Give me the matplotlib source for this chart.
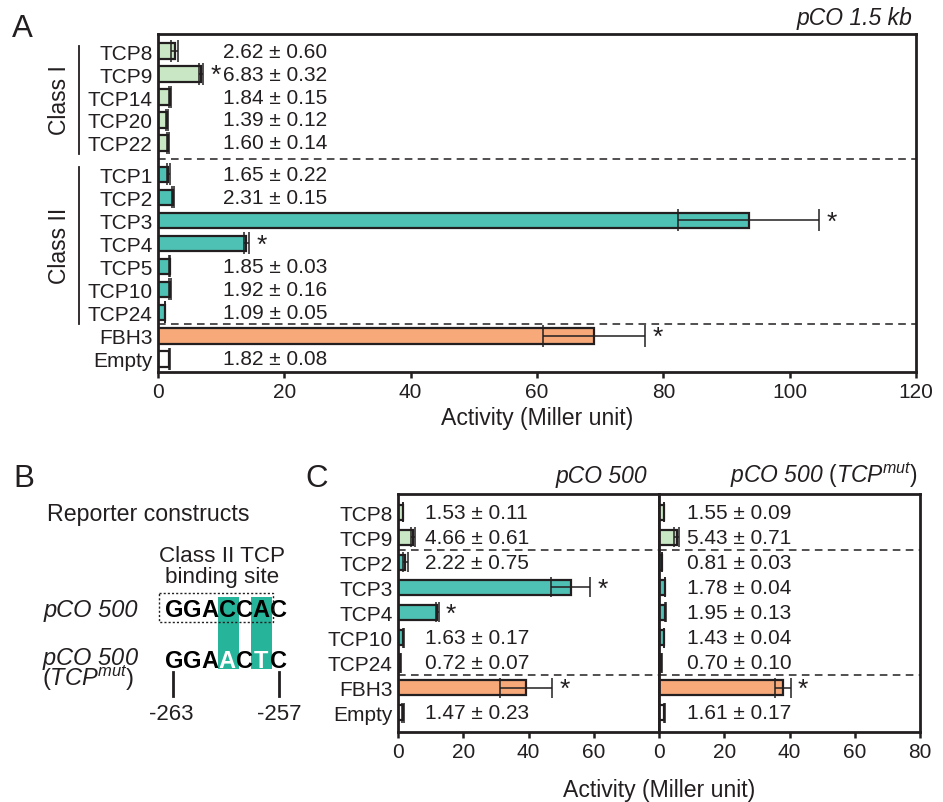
import matplotlib
matplotlib.use('Agg')
import matplotlib.pyplot as plt
from matplotlib.patches import Rectangle
import numpy as np

plt.rcParams['font.family'] = ['Liberation Sans', 'DejaVu Sans']
plt.rcParams['mathtext.fontset'] = 'custom'
plt.rcParams['mathtext.rm'] = 'Liberation Sans'
plt.rcParams['mathtext.it'] = 'Liberation Sans:italic'
plt.rcParams['mathtext.sf'] = 'Liberation Sans:italic'
plt.rcParams['mathtext.bf'] = 'Liberation Sans:bold'

# ---------------- data ----------------
a_labels = ['TCP8', 'TCP9', 'TCP14', 'TCP20', 'TCP22', 'TCP1', 'TCP2', 'TCP3',
            'TCP4', 'TCP5', 'TCP10', 'TCP24', 'FBH3', 'Empty']
a_kind = ['I'] * 5 + ['II'] * 7 + ['FBH3', 'Empty']
a_groups = [0, 0, 0, 0, 0, 1, 1, 1, 1, 1, 1, 1, 2, 2]
a_values = [2.62, 6.83, 1.84, 1.39, 1.60, 1.65, 2.31, 93.5, 14.0, 1.85, 1.92, 1.09, 69.0, 1.82]
a_errors = [0.60, 0.32, 0.15, 0.12, 0.14, 0.22, 0.15, 11.2, 0.4, 0.03, 0.16, 0.05, 8.1, 0.08]
a_show_value = [True, True, True, True, True, True, True, False, False, True, True, True, False, True]
a_signif = [False, True, False, False, False, False, False, True, True, False, False, False, True, False]

c_labels = ['TCP8', 'TCP9', 'TCP2', 'TCP3', 'TCP4', 'TCP10', 'TCP24', 'FBH3', 'Empty']
c_kind = ['I', 'I', 'II', 'II', 'II', 'II', 'II', 'FBH3', 'Empty']
c_groups = [0, 0, 1, 1, 1, 1, 1, 2, 2]
c_wt_values = [1.53, 4.66, 2.22, 53.0, 12.0, 1.63, 0.72, 39.3, 1.47]
c_wt_errors = [0.11, 0.61, 0.75, 6.0, 0.5, 0.17, 0.07, 8.0, 0.23]
c_wt_show = [True, True, True, False, False, True, True, False, True]
c_wt_signif = [False, False, False, True, True, False, False, True, False]
c_mut_values = [1.55, 5.43, 0.81, 1.78, 1.95, 1.43, 0.70, 38.0, 1.61]
c_mut_errors = [0.09, 0.71, 0.03, 0.04, 0.13, 0.04, 0.10, 2.4, 0.17]
c_mut_show = [True, True, True, True, True, True, True, False, True]
c_mut_signif = [False, False, False, False, False, False, False, True, False]

a_ticks = [0, 20, 40, 60, 80, 100, 120]
c_wt_ticks = [0, 20, 40, 60]
c_mut_ticks = [0, 20, 40, 60, 80]

# ---------------- style ----------------
INK = '#231f20'
kind_colors = {'I': '#c9e7c4', 'II': '#4fc1b4', 'FBH3': '#f7a97a', 'Empty': '#ffffff'}
TEAL = '#26b49a'
W, H = 943, 803
FS_TICK = 15
FS_VAL = 15

fig = plt.figure(figsize=(W / 100, H / 100), dpi=100)


def px_axes(l, r, t, b):
    return fig.add_axes([l / W, 1 - b / H, (r - l) / W, (b - t) / H])


def positions(groups, gaps):
    return np.arange(len(groups)) + np.array([gaps[g] for g in groups])


def separators(groups, pos):
    return [(pos[i] + pos[i + 1]) / 2 for i in range(len(groups) - 1) if groups[i] != groups[i + 1]]


def style_axes(ax, ticks, xmax):
    ax.set_xlim(0, xmax)
    ax.set_xticks(ticks)
    for s in ax.spines.values():
        s.set_linewidth(2)
        s.set_color(INK)
    ax.tick_params(axis='x', direction='out', length=4, width=1.8, pad=3,
                   labelsize=FS_TICK, colors=INK)
    ax.tick_params(axis='y', length=0, pad=4, labelsize=FS_TICK, colors=INK)


def draw_bars(ax, pos, values, errors, kinds, show, signif, text_x, height, capsize):
    colors = [kind_colors[k] for k in kinds]
    ax.barh(pos, values, height=height, color=colors, edgecolor=INK, linewidth=1.6, zorder=2)
    ax.errorbar(values, pos, xerr=errors, fmt='none', ecolor=INK, elinewidth=1.1,
                capsize=capsize, capthick=1.1, zorder=3)
    for y, v, e, s, g in zip(pos, values, errors, show, signif):
        if s:
            ax.text(text_x, y, f'{v:.2f} ± {e:.2f}', ha='left', va='center',
                    fontsize=FS_VAL, color=INK, zorder=4)
        if g:
            ax.annotate(r'$*$', xy=(v + e, y), xytext=(9, 0), textcoords='offset points',
                        ha='center', va='center', fontsize=19, color=INK, zorder=4)


# ---------------- panel A ----------------
axA = px_axes(158, 916, 35, 373)
posA = positions(a_groups, [0, 0.37, 0.39])
draw_bars(axA, posA, a_values, a_errors, a_kind, a_show_value, a_signif, 10.3, 0.68, 8)
style_axes(axA, a_ticks, 120)
axA.set_yticks(posA)
axA.set_yticklabels(a_labels)
axA.set_ylim(13.96, -0.74)
for y in separators(a_groups, posA):
    axA.axhline(y, color=INK, lw=1.1, ls=(0, (5, 3.5)), zorder=1)

# ---------------- panel C ----------------
axCL = px_axes(398, 659, 495, 733)
axCR = px_axes(659, 920, 495, 733)
posC = positions(c_groups, [0, 0, 0])
draw_bars(axCL, posC, c_wt_values, c_wt_errors, c_kind, c_wt_show, c_wt_signif, 8.3, 0.6, 7)
draw_bars(axCR, posC, c_mut_values, c_mut_errors, c_kind, c_mut_show, c_mut_signif, 8.6, 0.6, 7)
style_axes(axCL, c_wt_ticks, 80)
style_axes(axCR, c_mut_ticks, 80)
axCL.set_yticks(posC)
axCL.set_yticklabels(c_labels)
axCR.set_yticks([])
for ax in (axCL, axCR):
    ax.set_ylim(8.76, -0.72)
    for y in separators(c_groups, posC):
        ax.axhline(y, color=INK, lw=1.1, ls=(0, (5, 3.5)), zorder=1)

# ---------------- annotation overlay (pixel coordinates) ----------------
ov = fig.add_axes([0, 0, 1, 1], zorder=-1)
ov.set_xlim(0, W)
ov.set_ylim(H, 0)
ov.axis('off')


def t(x, y, s, **kw):
    kw.setdefault('color', INK)
    kw.setdefault('va', 'baseline')
    ov.text(x, y, s, **kw)


t(12, 37, 'A', fontsize=22.5)
t(13, 487, 'B', fontsize=22.5)
t(305, 487, 'C', fontsize=22.5)

t(912, 25, 'pCO 1.5 kb', ha='right', fontsize=16.5, fontstyle='italic')
t(647, 483, 'pCO 500', ha='right', fontsize=16.5, fontstyle='italic')
t(918, 483, r'$\mathsf{pCO\ 500}$ ($\mathsf{TCP}^{\mathsf{mut}}$)', ha='right', fontsize=16.5)

t(537, 425, 'Activity (Miller unit)', ha='center', fontsize=16.6)
t(659, 797, 'Activity (Miller unit)', ha='center', fontsize=16.6)

# class brackets
ov.plot([79, 79], [47, 155], color=INK, lw=1.3)
ov.plot([79, 79], [168, 325], color=INK, lw=1.3)
ov.text(60, 100, 'Class I', rotation=90, ha='center', va='center', fontsize=16.5, color=INK)
ov.text(60, 246, 'Class II', rotation=90, ha='center', va='center', fontsize=16.5, color=INK)

# ---------------- panel B diagram ----------------
t(47, 521, 'Reporter constructs', fontsize=16.7)
t(222, 562, 'Class II TCP', ha='center', fontsize=16.2)
t(222, 583, 'binding site', ha='center', fontsize=16.2)
ov.add_patch(Rectangle((218, 598), 21, 72, color=TEAL, lw=0, zorder=1))
ov.add_patch(Rectangle((251, 598), 21, 72, color=TEAL, lw=0, zorder=1))
ov.add_patch(Rectangle((159, 594), 114, 29, fill=False, ec=INK, lw=1.0, ls=(0, (1.5, 1.5)), zorder=3))

centers = [174.2, 192.6, 210.3, 227.3, 244.3, 261.3, 278.3]
wt_seq = 'GGACCAC'
mut_seq = 'GGAACTC'
mut_white = [False, False, False, True, False, True, False]
for cx, ch in zip(centers, wt_seq):
    t(cx, 617, ch, ha='center', fontsize=17, fontweight='bold', color='black', zorder=2)
for cx, ch, wflag in zip(centers, mut_seq, mut_white):
    t(cx, 668, ch, ha='center', fontsize=17, fontweight='bold',
      color='white' if wflag else 'black', zorder=2)

t(44, 617, 'pCO 500', fontsize=17, fontstyle='italic')
ov.text(42, 686, r'$\mathsf{pCO\ 500}$' + '\n' + r'($\mathsf{TCP}^{\mathsf{mut}}$)',
        fontsize=17, color=INK, ha='left', va='baseline', linespacing=0.62)

ov.plot([173, 173], [673, 697], color=INK, lw=2)
ov.plot([279, 279], [673, 697], color=INK, lw=2)
t(171, 720, '-263', ha='center', fontsize=16)
t(279, 720, '-257', ha='center', fontsize=16)

fig.savefig('out.png', dpi=100)
